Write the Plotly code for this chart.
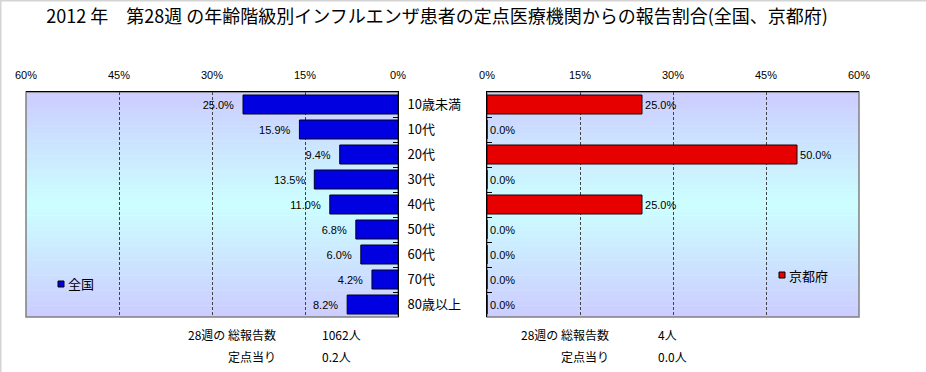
import plotly.graph_objects as go

# ---------------- data ----------------
categories = ["10歳未満", "10代", "20代", "30代", "40代", "50代", "60代", "70代", "80歳以上"]
national_pct = [25.0, 15.9, 9.4, 13.5, 11.0, 6.8, 6.0, 4.2, 8.2]
kyoto_pct = [25.0, 0.0, 50.0, 0.0, 25.0, 0.0, 0.0, 0.0, 0.0]
x_ticks = [0, 15, 30, 45, 60]
title_text = "2012 年　第28週 の年齢階級別インフルエンザ患者の定点医療機関からの報告割合(全国、京都府)"
series_names = ["全国", "京都府"]
summary_labels = ["28週の 総報告数", "定点当り"]
national_summary = ["1062人", "0.2人"]
kyoto_summary = ["4人", "0.0人"]

W, H = 926, 372
def px(x):
    return x / W
def py(y):
    return 1 - y / H

JP = "Noto Sans CJK JP"
LAT = "Liberation Sans"
BLUE = "#0000e0"
RED = "#e60000"
NB = "\u00a0"

fig = go.Figure()

fig.add_trace(go.Bar(
    y=categories, x=national_pct, orientation="h", name=series_names[0],
    marker=dict(color=BLUE, line=dict(color="#000022", width=1)),
    texttemplate="%{x:.1f}%" + NB * 2, textposition="outside", cliponaxis=False,
    textfont=dict(family=LAT, size=11, color="black"),
    xaxis="x", yaxis="y", width=0.76, showlegend=False,
))
fig.add_trace(go.Bar(
    y=categories, x=kyoto_pct, orientation="h", name=series_names[1],
    marker=dict(color=RED, line=dict(color="#220000", width=1)),
    texttemplate="%{x:.1f}%", textposition="outside", cliponaxis=False,
    textfont=dict(family=LAT, size=11, color="black"),
    xaxis="x2", yaxis="y2", width=0.76, showlegend=False,
))

# ---------------- background gradient stripes ----------------
shapes = []
N = 60
lav = (204, 204, 255)
cya = (204, 255, 255)
for xr, yr in (("x domain", "y domain"), ("x2 domain", "y2 domain")):
    for i in range(N):
        c = (i + 0.5) / N
        t = abs(c - 0.5) * 2
        col = tuple(round(cya[k] * (1 - t) + lav[k] * t) for k in range(3))
        shapes.append(dict(type="rect", xref=xr, yref=yr, x0=0, x1=1,
                           y0=i / N, y1=(i + 1) / N + 0.002, layer="below",
                           line=dict(width=0), fillcolor="rgb(%d,%d,%d)" % col))
    shapes.append(dict(type="rect", xref=xr, yref=yr, x0=0, x1=1, y0=0, y1=1,
                       layer="below", line=dict(color="#808080", width=1.5),
                       fillcolor="rgba(0,0,0,0)"))

# outer chart border (top and left)
shapes.append(dict(type="line", xref="paper", yref="paper", x0=0, x1=1, y0=1, y1=1,
                   line=dict(color="#d4d4d4", width=3)))
shapes.append(dict(type="line", xref="paper", yref="paper", x0=0, x1=0, y0=0, y1=1,
                   line=dict(color="#d4d4d4", width=3)))

# legend swatches
shapes.append(dict(type="rect", xref="paper", yref="paper",
                   x0=px(58), x1=px(64), y0=py(287), y1=py(281),
                   fillcolor=BLUE, line=dict(color="black", width=1)))
shapes.append(dict(type="rect", xref="paper", yref="paper",
                   x0=px(779), x1=px(785), y0=py(278), y1=py(272),
                   fillcolor=RED, line=dict(color="black", width=1)))

annotations = [
    dict(text=series_names[0], x=px(66), y=py(283), xref="paper", yref="paper",
         xanchor="left", yanchor="middle", showarrow=False,
         font=dict(family=JP, size=13, color="black")),
    dict(text=series_names[1], x=px(787), y=py(275), xref="paper", yref="paper",
         xanchor="left", yanchor="middle", showarrow=False,
         font=dict(family=JP, size=13, color="black")),
]
rows_y = [334, 356]
for i in range(2):
    annotations.append(dict(text=summary_labels[i], x=px(278), y=py(rows_y[i]),
                            xref="paper", yref="paper", xanchor="right", yanchor="middle",
                            showarrow=False, font=dict(family=JP, size=12, color="black")))
    annotations.append(dict(text=national_summary[i], x=px(320), y=py(rows_y[i]),
                            xref="paper", yref="paper", xanchor="left", yanchor="middle",
                            showarrow=False, font=dict(family=JP, size=12, color="black")))
    annotations.append(dict(text=summary_labels[i], x=px(611), y=py(rows_y[i]),
                            xref="paper", yref="paper", xanchor="right", yanchor="middle",
                            showarrow=False, font=dict(family=JP, size=12, color="black")))
    annotations.append(dict(text=kyoto_summary[i], x=px(656), y=py(rows_y[i]),
                            xref="paper", yref="paper", xanchor="left", yanchor="middle",
                            showarrow=False, font=dict(family=JP, size=12, color="black")))

xcommon = dict(
    tickvals=x_ticks, ticktext=["%d%%" % v for v in x_ticks], side="top",
    showgrid=True, gridcolor="#444444", griddash="3px,2px", gridwidth=1,
    showline=True, linecolor="black", linewidth=1, ticks="",
    tickfont=dict(family=LAT, size=11, color="black"), ticklabelstandoff=8,
    zeroline=False, fixedrange=True,
)
ycommon = dict(
    categoryorder="array", categoryarray=categories, autorange="reversed",
    showgrid=False, zeroline=False, showline=True, linecolor="black", linewidth=1,
    ticks="inside", tickson="boundaries", ticklen=5, tickcolor="black",
    fixedrange=True,
)

fig.update_layout(
    width=W, height=H, template="none",
    margin=dict(l=0, r=0, t=0, b=0, autoexpand=False),
    paper_bgcolor="white", plot_bgcolor="rgba(0,0,0,0)",
    title=dict(text=title_text, x=px(437), xanchor="center", y=py(17), yanchor="middle",
               xref="paper", yref="paper",
               font=dict(family=JP, size=18, color="black")),
    xaxis=dict(domain=[px(26), px(398)], range=[60, 0], anchor="y", **xcommon),
    yaxis=dict(domain=[py(317), py(92)], anchor="x", side="right",
               tickfont=dict(family=JP, size=13, color="black"), ticklabelstandoff=6,
               **ycommon),
    xaxis2=dict(domain=[px(487), px(859)], range=[0, 60], anchor="y2", **xcommon),
    yaxis2=dict(domain=[py(317), py(92)], anchor="x2", side="left",
                showticklabels=False, **ycommon),
    shapes=shapes, annotations=annotations,
    showlegend=False, bargap=0.24,
)

fig.write_html("out.html", config={"displayModeBar": False},
               post_script="document.body.style.margin='0px';document.body.style.overflow='hidden';")
